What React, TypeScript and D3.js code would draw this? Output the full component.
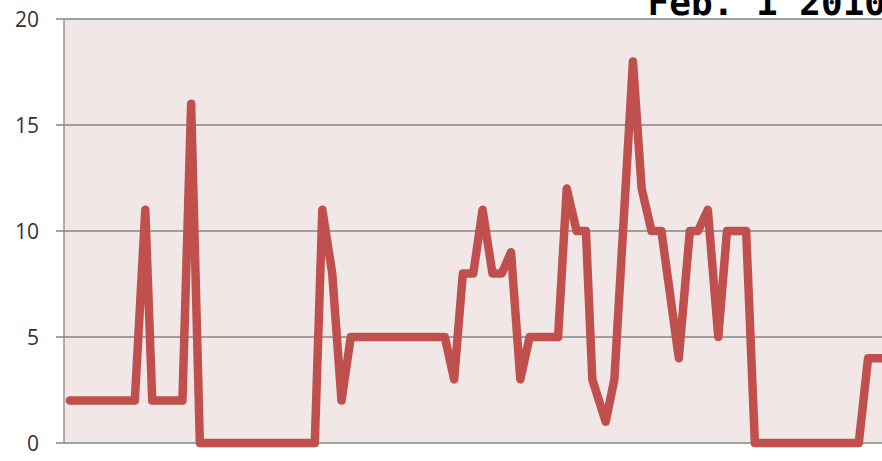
import React from "react";
import * as d3 from "d3";

// time of day in minutes, value
const times: number[] = [
  10, 122, 140, 152, 204, 219, 234, 432, 445, 462, 478, 494, 656, 672, 687, 705,
  721, 738, 754, 770, 786, 802, 851, 866, 883, 899, 910, 933, 948, 980, 995,
  1012, 1029, 1059, 1078, 1092, 1109, 1127, 1142, 1175, 1190, 1369, 1385, 1440,
];
const values: number[] = [
  2, 2, 11, 2, 2, 16, 0, 0, 11, 8, 2, 5, 5, 3, 8, 8,
  11, 8, 8, 9, 3, 5, 5, 12, 10, 10, 3, 1, 3, 18, 12,
  10, 10, 4, 10, 10, 11, 5, 10, 10, 0, 0, 4, 4,
];
const yTicks: number[] = [0, 5, 10, 15, 20];
const title = "Feb. 1 2010";

export default function App() {
  const W = 882;
  const H = 461;
  const left = 64;
  const top = 19;
  const bottom = 443;
  const x = d3.scaleLinear().domain([0, 1440]).range([left, 900]);
  const y = d3.scaleLinear().domain([0, 20]).range([bottom, top]);
  const pts = times.map((t, i) => [t, values[i]] as [number, number]);
  const line = d3
    .line<[number, number]>()
    .x((d) => x(d[0]))
    .y((d) => y(d[1]));
  return (
    <svg
      width={W}
      height={H}
      style={{ position: "absolute", left: 0, top: 0, background: "#ffffff" }}
    >
      <rect x={left} y={top} width={W - left} height={bottom - top} fill="#f2e7e7" />
      {yTicks.map((t) => (
        <g key={t}>
          <line x1={56} x2={W} y1={y(t)} y2={y(t)} stroke="#868686" strokeWidth={1.3} />
          <text
            x={39}
            y={y(t)}
            dy="0.36em"
            textAnchor="end"
            fontFamily="'Open Sans', sans-serif"
            fontSize={21}
            fill="#333"
          >
            {t}
          </text>
        </g>
      ))}
      <line x1={left} x2={left} y1={top} y2={bottom} stroke="#868686" strokeWidth={1.3} />
      <path
        d={line(pts) || ""}
        fill="none"
        stroke="#c0504d"
        strokeWidth={8.5}
        strokeLinejoin="round"
        strokeLinecap="round"
      />
      <text
        x={886}
        y={15}
        textAnchor="end"
        fontFamily="'DejaVu Sans Mono', monospace"
        fontWeight="bold"
        fontSize={36}
        fill="#000"
      >
        {title}
      </text>
    </svg>
  );
}
